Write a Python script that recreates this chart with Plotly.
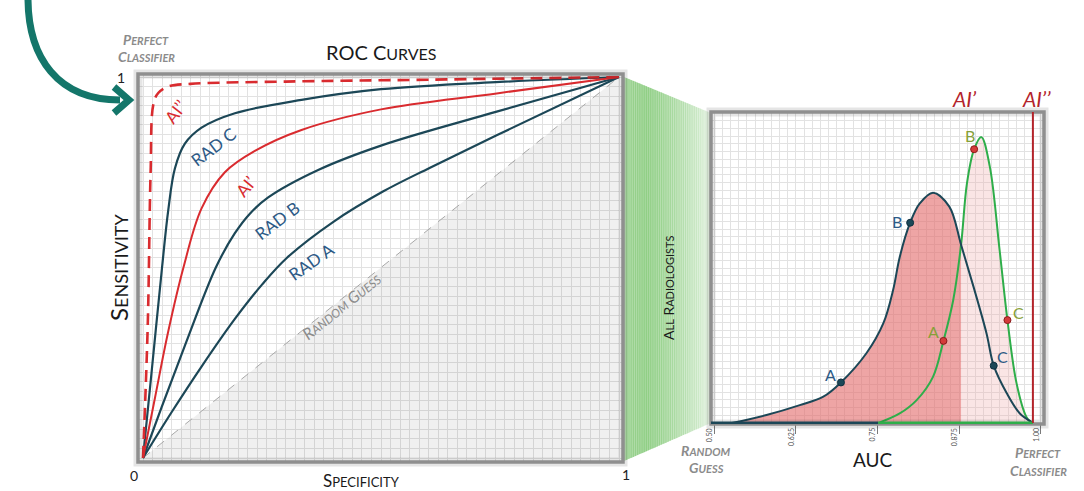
import plotly.graph_objects as go

W, H = 1084, 491
FONT = "Lato, 'Open Sans', sans-serif"

# ---------------- ROC curves (false-positive rate vs true-positive rate) ----------------
rad_a_fpr = [0, 0.06, 0.123, 0.193, 0.25, 0.302, 0.4, 0.505, 0.603, 0.743, 1]
rad_a_tpr = [0, 0.12, 0.24, 0.365, 0.455, 0.525, 0.62, 0.70, 0.762, 0.847, 1]

rad_b_fpr = [0, 0.039, 0.088, 0.153, 0.193, 0.225, 0.263, 0.368, 0.5, 0.743, 1]
rad_b_tpr = [0, 0.133, 0.295, 0.5, 0.59, 0.642, 0.684, 0.756, 0.82, 0.909, 1]

rad_c_fpr = [0, 0.02, 0.04, 0.053, 0.067, 0.088, 0.123, 0.193, 0.333, 0.5, 0.75, 1]
rad_c_tpr = [0, 0.25, 0.5, 0.65, 0.76, 0.825, 0.867, 0.905, 0.94, 0.968, 0.987, 1]

ai1_fpr = [0, 0.025, 0.053, 0.085, 0.123, 0.172, 0.235, 0.333, 0.5, 0.743, 1]
ai1_tpr = [0, 0.157, 0.332, 0.5, 0.655, 0.75, 0.806, 0.861, 0.915, 0.957, 1]

ai2_fpr = [0, 0.01, 0.016, 0.022, 0.032, 0.053, 0.1, 0.3, 0.6, 1]
ai2_tpr = [0, 0.35, 0.75, 0.93, 0.958, 0.975, 0.982, 0.988, 0.993, 1]

diag = [0, 1]

# ---------------- AUC distributions ----------------
rad_auc = [0.527, 0.580, 0.631, 0.667, 0.694, 0.733, 0.759, 0.774, 0.784, 0.800, 0.815,
           0.835, 0.860, 0.878, 0.897, 0.917, 0.928, 0.948, 0.968, 0.986]
rad_dens = [0, 0.026, 0.058, 0.085, 0.131, 0.225, 0.322, 0.43, 0.535, 0.646, 0.709,
            0.743, 0.698, 0.575, 0.440, 0.289, 0.185, 0.096, 0.031, 0.004]

ai_auc = [0.751, 0.784, 0.810, 0.835, 0.851, 0.866, 0.878, 0.887, 0.898, 0.909,
          0.922, 0.937, 0.949, 0.963, 0.978, 0.986]
ai_dens = [0, 0.031, 0.074, 0.149, 0.265, 0.397, 0.575, 0.773, 0.883, 0.922,
           0.827, 0.558, 0.332, 0.128, 0.02, 0]

rad_mark_labels = ["A", "B", "C"]
rad_mark_auc = [0.694, 0.800, 0.928]
rad_mark_dens = [0.131, 0.646, 0.185]

ai_mark_labels = ["A", "B", "C"]
ai_mark_auc = [0.851, 0.898, 0.949]
ai_mark_dens = [0.265, 0.883, 0.332]

AI1_AUC = 0.878
AI2_AUC = 0.988

auc_ticks = [0.5, 0.625, 0.75, 0.875, 1.0]
auc_tick_text = ["0.50", "0.625", "0.75", "0.875", "1.00"]

NAVY = "#1c4757"
LABEL_BLUE = "#2d5a86"
RED = "#d92b2f"
DARK_RED = "#b3232a"
GREEN = "#2eae4a"
OLIVE = "#86a03a"
GRAY_TXT = "#8b8b8b"
SMOOTH = 1.0


def px(x):
    return x / W


def py(y):
    return 1 - y / H


def small_caps(text, big, small):
    parts = []
    for w in text.split(" "):
        parts.append(f"<span style='font-size:{big}px'>{w[0].upper()}</span>"
                     f"<span style='font-size:{small}px'>{w[1:].upper()}</span>")
    return " ".join(parts)


fig = go.Figure()

# ---- left panel: ROC space ----
fig.add_trace(go.Scatter(x=[diag[0], diag[1], diag[1], diag[0]], y=[diag[0], diag[1], diag[0], diag[0]],
                         fill="toself", fillcolor="rgba(0,0,0,0.06)", line=dict(width=0),
                         mode="lines", hoverinfo="skip", xaxis="x", yaxis="y"))
fig.add_trace(go.Scatter(x=diag, y=diag, mode="lines",
                         line=dict(color="#a8a8a8", width=1, dash="dash"), xaxis="x", yaxis="y"))

for fx, ty in [(rad_a_fpr, rad_a_tpr), (rad_b_fpr, rad_b_tpr), (rad_c_fpr, rad_c_tpr)]:
    fig.add_trace(go.Scatter(x=fx, y=ty, mode="lines",
                             line=dict(color=NAVY, width=2.2, shape="spline", smoothing=SMOOTH),
                             xaxis="x", yaxis="y"))
fig.add_trace(go.Scatter(x=ai1_fpr, y=ai1_tpr, mode="lines",
                         line=dict(color=RED, width=2, shape="spline", smoothing=SMOOTH), xaxis="x", yaxis="y"))
fig.add_trace(go.Scatter(x=ai2_fpr, y=ai2_tpr, mode="lines",
                         line=dict(color=RED, width=2.6, dash="12px,7px", shape="spline", smoothing=1.0),
                         xaxis="x", yaxis="y"))

# ---- right panel: AUC distributions ----
split = rad_auc.index(AI1_AUC)
fig.add_trace(go.Scatter(x=rad_auc[:split + 1], y=rad_dens[:split + 1], mode="lines", fill="tozeroy",
                         fillcolor="rgba(228,110,110,0.62)", line=dict(width=0, shape="spline", smoothing=1.0),
                         xaxis="x2", yaxis="y2"))
gsplit = ai_auc.index(AI1_AUC)
fig.add_trace(go.Scatter(x=ai_auc[gsplit:], y=ai_dens[gsplit:], mode="lines", fill="tozeroy",
                         fillcolor="rgba(240,170,170,0.3)", line=dict(width=0, shape="spline", smoothing=1.0),
                         xaxis="x2", yaxis="y2"))
fig.add_trace(go.Scatter(x=ai_auc, y=ai_dens, mode="lines",
                         line=dict(color=GREEN, width=2, shape="spline", smoothing=1.0), xaxis="x2", yaxis="y2"))
fig.add_trace(go.Scatter(x=rad_auc, y=rad_dens, mode="lines",
                         line=dict(color=NAVY, width=2, shape="spline", smoothing=1.0), xaxis="x2", yaxis="y2"))
fig.add_trace(go.Scatter(x=rad_mark_auc, y=rad_mark_dens, mode="markers",
                         marker=dict(color=NAVY, size=7, line=dict(color="#0f3040", width=1)),
                         xaxis="x2", yaxis="y2"))
fig.add_trace(go.Scatter(x=ai_mark_auc, y=ai_mark_dens, mode="markers",
                         marker=dict(color="#d43a3a", size=7, line=dict(color="#8b1a1a", width=1)),
                         xaxis="x2", yaxis="y2"))

grid = "#e2e2e2"
axis_common = dict(showline=False, zeroline=False, showticklabels=False, fixedrange=True)
fig.update_layout(
    width=W, height=H, margin=dict(l=0, r=0, t=0, b=0),
    paper_bgcolor="white", plot_bgcolor="white", showlegend=False,
    font=dict(family=FONT, color="#222"),
    xaxis=dict(domain=[px(138), px(623)], range=[-0.0105, 1.0084], tick0=0, dtick=0.02,
               showgrid=True, gridcolor=grid, gridwidth=1, ticks="", anchor="y", **axis_common),
    yaxis=dict(domain=[py(462), py(74)], range=[-0.0105, 1.0079], tick0=0, dtick=0.025,
               showgrid=True, gridcolor=grid, gridwidth=1, ticks="", anchor="x", **axis_common),
    xaxis2=dict(domain=[px(711), px(1044)], range=[0.495, 1.005], tickvals=auc_ticks,
                showgrid=True, gridcolor=grid, ticks="outside", ticklen=9, tickcolor="#7a7a7a",
                minor=dict(tick0=0.5, dtick=0.0125, showgrid=True, gridcolor=grid, ticks=""),
                anchor="y2", **axis_common),
    yaxis2=dict(domain=[py(424), py(112)], range=[-0.003, 1.003], tick0=0, dtick=0.025,
                showgrid=True, gridcolor=grid, ticks="", anchor="x2", **axis_common),
)

shapes = []

# connector band between the two panels, shaded in vertical strips
n_strips = 40
xl, xr = 624, 711
for i in range(n_strips):
    t0 = i / n_strips
    t1 = min((i + 1.6) / n_strips, 1)
    x0 = xl + (xr - xl) * t0
    x1 = xl + (xr - xl) * t1
    yt0, yt1 = 77 + (113 - 77) * t0, 77 + (113 - 77) * t1
    yb0, yb1 = 461 + (423 - 461) * t0, 461 + (423 - 461) * t1
    tm = (i + 0.5) / n_strips
    a = 0.55 + 0.12 * tm / 0.25 if tm < 0.25 else 0.67 - (tm - 0.25) / 0.75 * 0.55
    shapes.append(dict(type="path", xref="paper", yref="paper", layer="below",
                       path=f"M {px(x0)},{py(yt0)} L {px(x1)},{py(yt1)} L {px(x1)},{py(yb1)} L {px(x0)},{py(yb0)} Z",
                       fillcolor=f"rgba(130,200,118,{a:.3f})", line=dict(width=0)))

# panel frames with a soft shadow
for xr_, yr_ in [("x domain", "y domain"), ("x2 domain", "y2 domain")]:
    shapes.append(dict(type="rect", xref=xr_, yref=yr_, x0=0, x1=1, y0=0, y1=1,
                       line=dict(color="rgba(0,0,0,0.10)", width=9)))
    shapes.append(dict(type="rect", xref=xr_, yref=yr_, x0=0, x1=1, y0=0, y1=1,
                       line=dict(color="#8f8f8f", width=3.5)))

# baseline of the distribution panel
shapes.append(dict(type="line", xref="x2", yref="y2", x0=0.495, x1=ai_auc[0], y0=0, y1=0,
                   line=dict(color=NAVY, width=3)))
shapes.append(dict(type="line", xref="x2", yref="y2", x0=ai_auc[0], x1=AI2_AUC, y0=0, y1=0,
                   line=dict(color=GREEN, width=3)))
# AI'' reference line
shapes.append(dict(type="line", xref="x2", yref="y2", x0=AI2_AUC, x1=AI2_AUC, y0=0, y1=1.003,
                   line=dict(color=DARK_RED, width=2)))

# curved arrow pointing at the perfect-classifier corner
arrow_col = "#14766a"
shapes.append(dict(type="path", xref="paper", yref="paper",
                   path=f"M {px(28)},{py(-2)} C {px(28)},{py(58)} {px(58)},{py(100)} {px(120)},{py(100)}",
                   line=dict(color=arrow_col, width=7)))
shapes.append(dict(type="path", xref="paper", yref="paper",
                   path=f"M {px(114)},{py(87)} L {px(129)},{py(100)} L {px(114)},{py(113)}",
                   line=dict(color=arrow_col, width=7)))

fig.update_layout(shapes=shapes)

ann = []


def add_px(x, y, text, size=14, color="#222", angle=0):
    ann.append(dict(x=px(x), y=py(y), xref="paper", yref="paper", text=text, showarrow=False,
                    xanchor="center", yanchor="middle", textangle=angle,
                    font=dict(size=size, color=color, family=FONT)))


# left panel titles and axis labels
add_px(381, 52, "ROC " + small_caps("Curves", 20, 16), size=20, color="#1a1a1a")
add_px(118, 268, small_caps("Sensitivity", 24, 18), size=24, color="#1a1a1a", angle=-90)
add_px(362, 480, small_caps("Specificity", 17, 13), size=17, color="#1a1a1a")
add_px(134, 475, "0", size=14)
add_px(626, 474, "1", size=14)
add_px(121, 78, "1", size=14)
add_px(146, 40, "<b><i>" + small_caps("Perfect", 14, 11) + "</i></b>", color=GRAY_TXT)
add_px(146, 57, "<b><i>" + small_caps("Classifier", 14, 11) + "</i></b>", color=GRAY_TXT)

# labels along the ROC curves
for x, y, t, col, ang in [(0.069, 0.909, "AI’’", RED, -52), (0.149, 0.817, "RAD C", LABEL_BLUE, -37),
                          (0.216, 0.712, "AI’", RED, -50), (0.282, 0.623, "RAD B", LABEL_BLUE, -37),
                          (0.354, 0.515, "RAD A", LABEL_BLUE, -35)]:
    ann.append(dict(x=x, y=y, xref="x", yref="y", text=t, showarrow=False, textangle=ang,
                    font=dict(size=17, color=col, family=FONT)))
ann.append(dict(x=0.418, y=0.399, xref="x", yref="y", text="<i>" + small_caps("Random Guess", 16, 12) + "</i>",
                showarrow=False, textangle=-38.7, font=dict(size=16, color=GRAY_TXT, family=FONT)))

# connector label
add_px(668, 288, small_caps("All Radiologists", 14, 11), size=14, color="#1a1a1a", angle=-90)

# right panel labels
add_px(873, 459, "AUC", size=19, color="#1a1a1a")
add_px(706, 450, "<b><i>" + small_caps("Random", 14, 11) + "</i></b>", color=GRAY_TXT)
add_px(706, 467, "<b><i>" + small_caps("Guess", 14, 11) + "</i></b>", color=GRAY_TXT)
add_px(1038, 452, "<b><i>" + small_caps("Perfect", 14, 11) + "</i></b>", color=GRAY_TXT)
add_px(1038, 470, "<b><i>" + small_caps("Classifier", 14, 11) + "</i></b>", color=GRAY_TXT)
for xv, t in [(AI1_AUC + 0.006, "AI’"), (AI2_AUC + 0.006, "AI’’")]:
    ann.append(dict(x=xv, y=py(98), xref="x2", yref="paper", text=f"<i>{t}</i>", showarrow=False,
                    xanchor="center", yanchor="middle",
                    font=dict(size=21, color=DARK_RED, family=FONT)))
for xv, t in zip(auc_ticks, auc_tick_text):
    ann.append(dict(x=xv, y=0, xref="x2", yref="y2", text=t, showarrow=False, textangle=-90,
                    yanchor="top", xshift=-5, yshift=-3, font=dict(size=7, color="#555", family=FONT)))

rad_offsets = [(-10, 8), (-13, 1), (9, 9)]
for xv, yv, t, (dx, dy) in zip(rad_mark_auc, rad_mark_dens, rad_mark_labels, rad_offsets):
    ann.append(dict(x=xv, y=yv, xref="x2", yref="y2", text=t, showarrow=False, xshift=dx, yshift=dy,
                    font=dict(size=16, color=LABEL_BLUE, family=FONT)))
ai_offsets = [(-10, 9), (-4, 14), (11, 8)]
for xv, yv, t, (dx, dy) in zip(ai_mark_auc, ai_mark_dens, ai_mark_labels, ai_offsets):
    ann.append(dict(x=xv, y=yv, xref="x2", yref="y2", text=t, showarrow=False, xshift=dx, yshift=dy,
                    font=dict(size=16, color=OLIVE, family=FONT)))

fig.update_layout(annotations=ann)
fig.write_html("out.html")
